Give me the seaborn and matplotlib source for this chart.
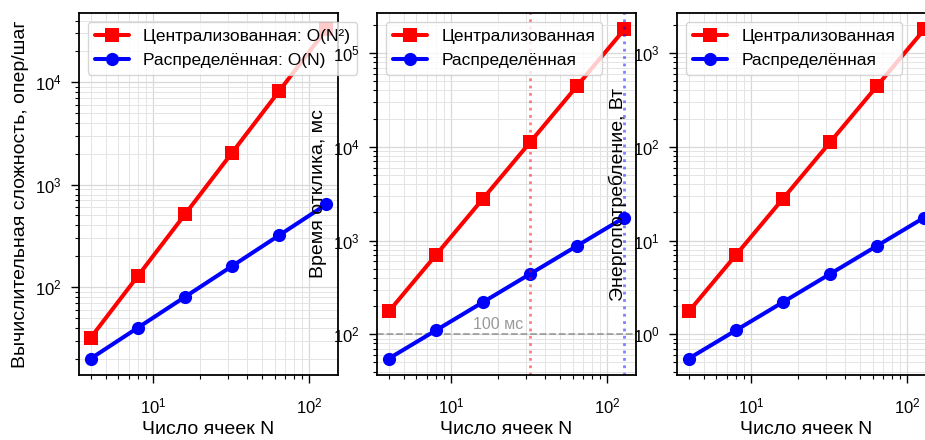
import matplotlib
matplotlib.use("Agg")
import matplotlib.pyplot as plt
import seaborn as sns
import pandas as pd

# ---- data ----
N = [4, 8, 16, 32, 64, 128]
ops_central = [32, 128, 512, 2048, 8192, 32768]
ops_distrib = [20, 40, 80, 160, 320, 640]
resp_central = [175, 700, 2800, 11200, 44800, 179200]
resp_distrib = [55, 110, 220, 440, 880, 1760]
power_central = [1.75, 7, 28, 112, 448, 1792]
power_distrib = [0.55, 1.1, 2.2, 4.4, 8.8, 17.6]

label_central = "Централизованная"
label_distrib = "Распределённая"
panel1_labels = ["Централизованная: O(N²)", "Распределённая: O(N)"]
xlabel = "Число ячеек N"
ylabels = ["Вычислительная сложность, опер/шаг", "Время отклика, мс", "Энергопотребление, Вт"]
threshold_ms = 100
threshold_text = "100 мс"
vline_central = 32
vline_distrib = 128

sns.set_style("ticks")
plt.rcParams["font.family"] = ["Liberation Sans", "DejaVu Sans"]
plt.rcParams["mathtext.default"] = "regular"
plt.rcParams["axes.edgecolor"] = "black"
plt.rcParams["xtick.color"] = "black"
plt.rcParams["ytick.color"] = "black"
plt.rcParams["axes.labelcolor"] = "black"
plt.rcParams["text.color"] = "black"

fig = plt.figure(figsize=(9.25, 4.4), dpi=100)
W = 0.28
B, H = 0.1477, 0.8227
lefts = [0.0854, 0.4076, 0.7319]
axes = [fig.add_axes([l, B, W, H]) for l in lefts]

series = [
    (ops_central, ops_distrib, panel1_labels),
    (resp_central, resp_distrib, [label_central, label_distrib]),
    (power_central, power_distrib, [label_central, label_distrib]),
]

for ax, (yc, yd, labs), yl in zip(axes, series, ylabels):
    ax.set_xscale("log")
    ax.set_yscale("log")
    dfc = pd.DataFrame({"N": N, "v": yc})
    dfd = pd.DataFrame({"N": N, "v": yd})
    sns.lineplot(data=dfc, x="N", y="v", ax=ax, color="red", marker="s",
                 markersize=9.5, linewidth=2.9, markeredgewidth=0, label=labs[0])
    sns.lineplot(data=dfd, x="N", y="v", ax=ax, color="blue", marker="o",
                 markersize=9.5, linewidth=2.9, markeredgewidth=0, label=labs[1])
    ax.grid(True, which="major", color="#d8d8d8", linewidth=0.9)
    ax.grid(True, which="minor", color="#e4e4e4", linewidth=0.7)
    ax.set_axisbelow(True)
    ax.set_xlabel(xlabel, fontsize=14, labelpad=3)
    ax.set_ylabel(yl, fontsize=14)
    ax.tick_params(which="major", labelsize=12, length=5.5, width=1, direction="out")
    ax.tick_params(axis="x", which="major", pad=10)
    ax.tick_params(axis="y", which="major", pad=7)
    ax.tick_params(which="minor", length=3, width=0.8, direction="out")
    for s in ax.spines.values():
        s.set_linewidth(1.3)
        s.set_color("black")
    ax.legend(loc="upper left", fontsize=12.5, framealpha=0.8)

ax2 = axes[1]
ax2.axhline(threshold_ms, color="gray", linestyle="--", linewidth=1.3, alpha=0.7, zorder=1)
ax2.text(20, threshold_ms * 1.05, threshold_text, color="gray", alpha=0.8,
         fontsize=11.5, ha="center", va="bottom")
ax2.axvline(vline_central, color="red", linestyle=":", linewidth=2, alpha=0.5)
ax2.axvline(vline_distrib, color="blue", linestyle=":", linewidth=2, alpha=0.5)

fig.savefig("out.png", dpi=100)
